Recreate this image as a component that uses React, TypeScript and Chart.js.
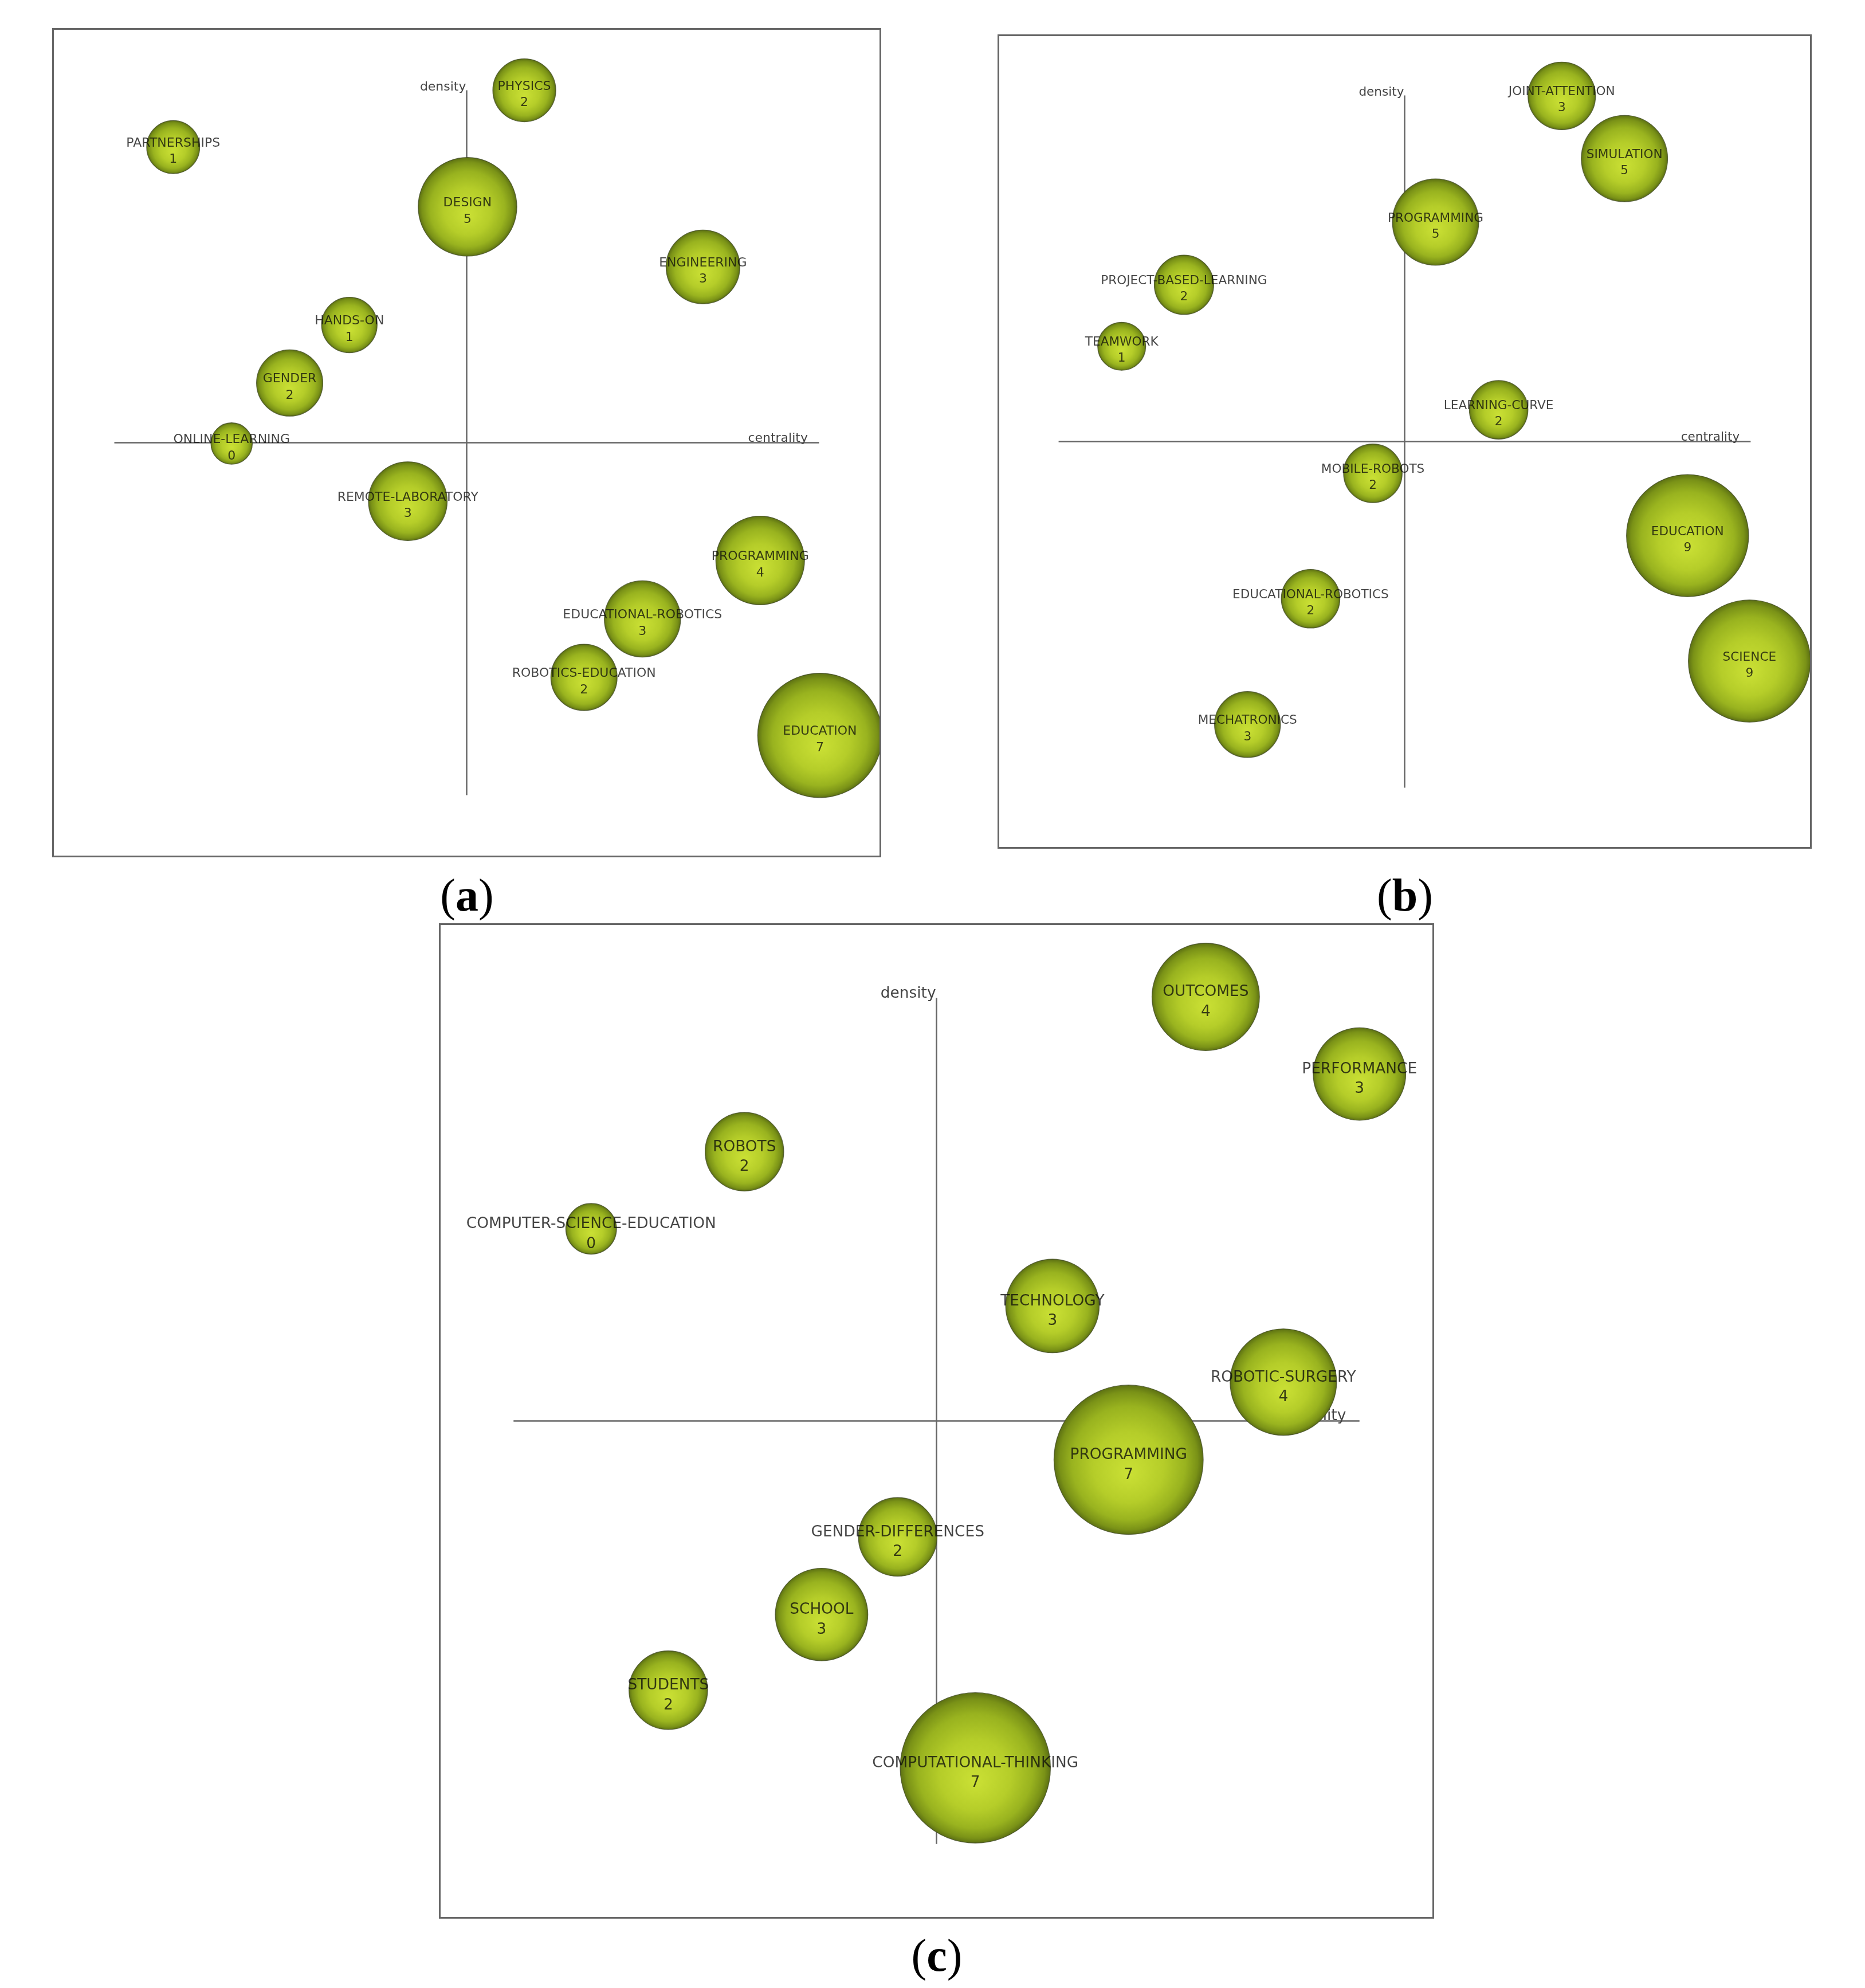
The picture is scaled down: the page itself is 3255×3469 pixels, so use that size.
import React, { useEffect, useRef } from 'react';
import { Chart, registerables } from 'chart.js';

Chart.register(...registerables);

// ---------- Panel (a) ----------
const themesA = ['PHYSICS', 'PARTNERSHIPS', 'DESIGN', 'ENGINEERING', 'HANDS-ON', 'GENDER', 'ONLINE-LEARNING', 'REMOTE-LABORATORY', 'PROGRAMMING', 'EDUCATIONAL-ROBOTICS', 'ROBOTICS-EDUCATION', 'EDUCATION'];
const centralityA = [13.9, -70.8, 0.2, 57.0, -28.3, -42.7, -56.7, -14.2, 70.8, 42.4, 28.3, 85.2];
const densityA = [85.0, 71.3, 56.9, 42.4, 28.4, 14.4, -0.2, -14.1, -28.4, -42.5, -56.6, -70.6];
const sizeA = [7.6, 6.4, 11.9, 8.9, 6.7, 8.0, 5.0, 9.5, 10.7, 9.2, 8.0, 15.0];
const countA = [2, 1, 5, 3, 1, 2, 0, 3, 4, 3, 2, 7];

// ---------- Panel (b) ----------
const themesB = ['JOINT-ATTENTION', 'SIMULATION', 'PROGRAMMING', 'PROJECT-BASED-LEARNING', 'TEAMWORK', 'LEARNING-CURVE', 'MOBILE-ROBOTS', 'EDUCATION', 'EDUCATIONAL-ROBOTICS', 'SCIENCE', 'MECHATRONICS'];
const centralityB = [38.6, 54.0, 7.6, -54.2, -69.5, 23.1, -7.8, 69.5, -23.1, 84.7, -38.6];
const densityB = [84.9, 69.5, 53.9, 38.5, 23.4, 7.8, -7.8, -23.1, -38.6, -53.9, -69.5];
const sizeB = [8.3, 10.6, 10.6, 7.3, 5.9, 7.2, 7.2, 15.0, 7.2, 15.0, 8.1];
const countB = [3, 5, 5, 2, 1, 2, 2, 9, 2, 9, 3];

// ---------- Panel (c) ----------
const themesC = ['OUTCOMES', 'PERFORMANCE', 'ROBOTS', 'COMPUTER-SCIENCE-EDUCATION', 'TECHNOLOGY', 'ROBOTIC-SURGERY', 'PROGRAMMING', 'GENDER-DIFFERENCES', 'SCHOOL', 'STUDENTS', 'COMPUTATIONAL-THINKING'];
const centralityC = [54.1, 85.0, -38.6, -69.4, 23.3, 69.7, 38.6, -7.8, -23.1, -53.9, 7.8];
const densityC = [85.2, 69.7, 54.1, 38.6, 23.1, 7.8, -7.8, -23.3, -38.9, -54.1, -69.7];
const sizeC = [10.8, 9.3, 7.9, 5.1, 9.4, 10.7, 15.0, 7.9, 9.3, 7.9, 15.1];
const countC = [4, 3, 2, 0, 3, 4, 7, 2, 3, 2, 7];

const AXIS_X_TITLE = 'centrality';
const AXIS_Y_TITLE = 'density';
const PANEL_TAGS = ['a', 'b', 'c'];

const SCALE_MIN = -100;
const SCALE_MAX = 100;
const AXIS_EXTENT = 85;

type PanelProps = {
  left: number;
  top: number;
  size: number;
  themes: string[];
  centrality: number[];
  density: number[];
  sizes: number[];
  counts: number[];
};

function radiusFor(chart: any, sizes: number[], i: number) {
  const ca = chart.chartArea;
  const w = ca ? ca.right - ca.left : chart.width;
  return (sizes[i] * w) / (SCALE_MAX - SCALE_MIN);
}

function StrategicMap(props: PanelProps) {
  const ref = useRef<HTMLCanvasElement>(null);
  useEffect(() => {
    const canvas = ref.current;
    if (!canvas) return;
    const { themes, centrality, density, sizes, counts } = props;

    const decor = {
      id: 'strategicDecor',
      beforeDraw(chart: any) {
        const { ctx, width, height } = chart;
        ctx.save();
        ctx.fillStyle = '#ffffff';
        ctx.fillRect(0, 0, width, height);
        ctx.restore();
      },
      beforeDatasetsDraw(chart: any) {
        const { ctx } = chart;
        const xs = chart.scales.x;
        const ys = chart.scales.y;
        const x0 = xs.getPixelForValue(0);
        const y0 = ys.getPixelForValue(0);
        const xl = xs.getPixelForValue(-AXIS_EXTENT);
        const xr = xs.getPixelForValue(AXIS_EXTENT);
        const yt = ys.getPixelForValue(AXIS_EXTENT);
        const yb = ys.getPixelForValue(-AXIS_EXTENT);
        const fs = chart.width * 0.0152;
        ctx.save();
        ctx.strokeStyle = '#666666';
        ctx.lineWidth = 2.5;
        ctx.beginPath();
        ctx.moveTo(xl, y0);
        ctx.lineTo(xr, y0);
        ctx.moveTo(x0, yt);
        ctx.lineTo(x0, yb);
        ctx.stroke();
        ctx.font = `${fs}px "DejaVu Sans"`;
        ctx.fillStyle = '#444444';
        ctx.textAlign = 'right';
        ctx.textBaseline = 'alphabetic';
        ctx.fillText(AXIS_Y_TITLE, x0 - 1, yt);
        ctx.fillText(AXIS_X_TITLE, xs.getPixelForValue(AXIS_EXTENT - 2.7), y0 - 2);
        ctx.restore();
      },
      afterDatasetsDraw(chart: any) {
        const { ctx } = chart;
        const meta = chart.getDatasetMeta(0);
        const fs = chart.width * 0.0152;
        ctx.save();
        ctx.font = `${fs}px "DejaVu Sans"`;
        ctx.textAlign = 'center';
        ctx.textBaseline = 'middle';
        ctx.fillStyle = 'rgba(10,10,10,0.76)';
        meta.data.forEach((el: any, i: number) => {
          ctx.fillText(themes[i], el.x, el.y - fs * 0.3);
          ctx.fillText(String(counts[i]), el.x, el.y + fs * 1.0);
        });
        ctx.restore();
      },
      afterDraw(chart: any) {
        const { ctx, width, height } = chart;
        ctx.save();
        ctx.strokeStyle = '#666666';
        ctx.lineWidth = 3;
        ctx.strokeRect(1.5, 1.5, width - 3, height - 3);
        ctx.restore();
      },
    };

    const chart = new Chart(canvas, {
      type: 'bubble',
      data: {
        datasets: [
          {
            data: themes.map((_, i) => ({ x: centrality[i], y: density[i] })),
            radius: (c: any) => radiusFor(c.chart, sizes, c.dataIndex),
            backgroundColor: (c: any) => {
              const chart = c.chart;
              if (!chart.chartArea || !c.raw) return '#a9c422';
              const px = chart.scales.x.getPixelForValue(c.raw.x);
              const py = chart.scales.y.getPixelForValue(c.raw.y);
              const r = radiusFor(chart, sizes, c.dataIndex);
              const g = chart.ctx.createRadialGradient(px, py + r * 0.18, r * 0.04, px, py, r);
              g.addColorStop(0, '#c9df34');
              g.addColorStop(0.45, '#b5cd29');
              g.addColorStop(0.75, '#99b31f');
              g.addColorStop(0.92, '#7a9217');
              g.addColorStop(1, '#5d7113');
              return g;
            },
            borderColor: 'rgba(65,75,35,0.8)',
            borderWidth: 1.3,
          } as any,
        ],
      },
      options: {
        responsive: false,
        maintainAspectRatio: false,
        animation: false,
        devicePixelRatio: 1,
        events: [],
        layout: { padding: 0, autoPadding: false },
        scales: {
          x: { type: 'linear', min: SCALE_MIN, max: SCALE_MAX, display: false },
          y: { type: 'linear', min: SCALE_MIN, max: SCALE_MAX, display: false },
        },
        plugins: {
          legend: { display: false },
          tooltip: { enabled: false },
          title: { display: false },
        },
      },
      plugins: [decor],
    } as any);
    return () => chart.destroy();
  }, []);

  return (
    <canvas
      ref={ref}
      width={props.size}
      height={props.size}
      style={{ position: 'absolute', left: props.left, top: props.top, width: props.size, height: props.size }}
    />
  );
}

function Tag({ text, cx, cy }: { text: string; cx: number; cy: number }) {
  const fs = 80;
  return (
    <div
      style={{
        position: 'absolute',
        left: cx - 200,
        top: cy - fs * 0.58,
        width: 400,
        textAlign: 'center',
        fontFamily: '"Liberation Serif", "Times New Roman", serif',
        fontSize: fs,
        lineHeight: 1,
        color: '#000',
      }}
    >
      (<b>{text}</b>)
    </div>
  );
}

export default function App() {
  return (
    <div style={{ position: 'absolute', left: 0, top: 0, width: 3255, height: 3469, background: '#fff', overflow: 'hidden' }}>
      <StrategicMap left={91} top={49} size={1447} themes={themesA} centrality={centralityA} density={densityA} sizes={sizeA} counts={countA} />
      <StrategicMap left={1741} top={60} size={1421} themes={themesB} centrality={centralityB} density={densityB} sizes={sizeB} counts={countB} />
      <StrategicMap left={766} top={1611} size={1737} themes={themesC} centrality={centralityC} density={densityC} sizes={sizeC} counts={countC} />
      <Tag text={PANEL_TAGS[0]} cx={815} cy={1568} />
      <Tag text={PANEL_TAGS[1]} cx={2452} cy={1568} />
      <Tag text={PANEL_TAGS[2]} cx={1635} cy={3418} />
    </div>
  );
}
